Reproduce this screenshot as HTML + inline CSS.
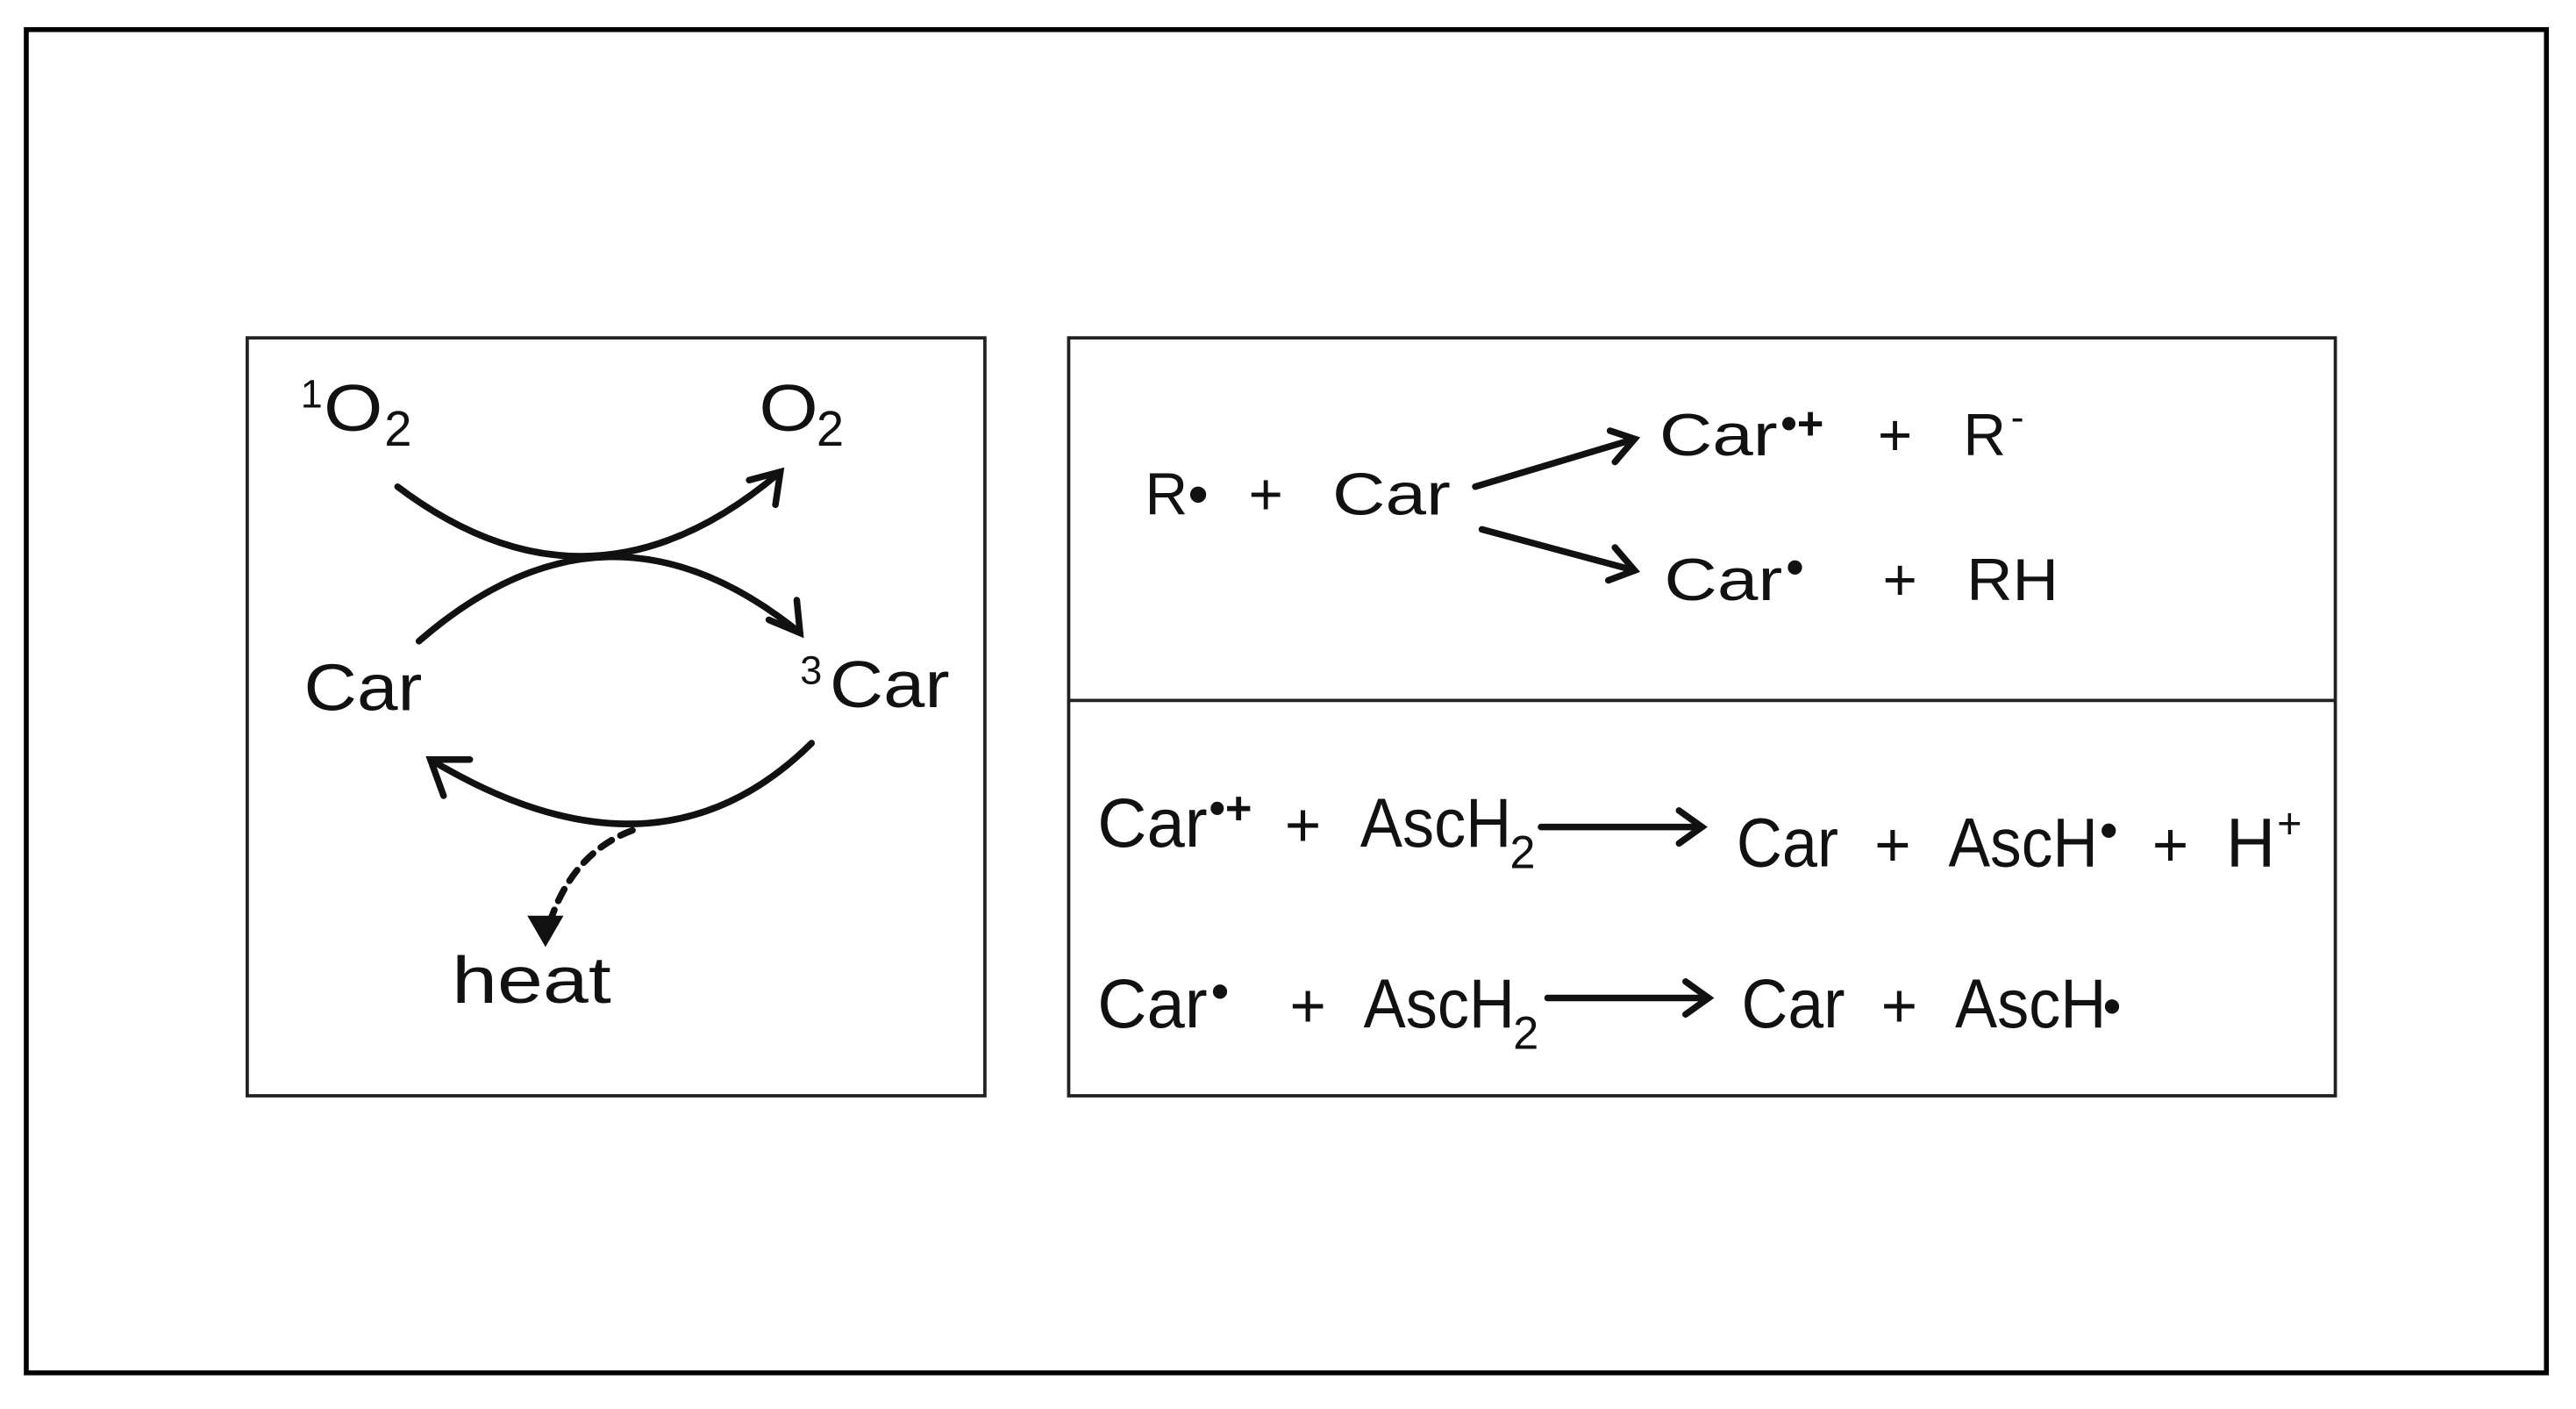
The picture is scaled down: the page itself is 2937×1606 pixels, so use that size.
<!DOCTYPE html>
<html><head><meta charset="utf-8"><style>
html,body{margin:0;padding:0;background:#fff}
svg{display:block}
text{font-family:"Liberation Sans",sans-serif;fill:#111}
</style></head><body>
<svg width="2937" height="1606" viewBox="0 0 1568 857" preserveAspectRatio="none" xmlns="http://www.w3.org/2000/svg">
<rect x="16" y="18" width="1534" height="817" fill="none" stroke="#000" stroke-width="3"/>
<rect x="150.5" y="205.5" width="449" height="461" fill="none" stroke="#222" stroke-width="2"/>
<rect x="650.5" y="205.5" width="771" height="461" fill="none" stroke="#222" stroke-width="2"/>
<line x1="650" y1="426" x2="1422" y2="426" stroke="#222" stroke-width="2"/>
<g fill="none" stroke="#111" stroke-width="4" stroke-linecap="round">
<path d="M242,296 Q360,385 475,287"/>
<path d="M456,292 L475,287 L472,307"/>
<path d="M255,390 Q370,290 487,385"/>
<path d="M468,377 L487,385 L485,365"/>
<path d="M494,452 Q400,545 262,462"/>
<path d="M270,484 L262,462 L286,462"/>
<path d="M385,505 Q345,520 332,570" stroke-dasharray="8,6"/>
<path d="M898,296 L995,267"/><path d="M980,262 L995,267 L983,281"/>
<path d="M902,322 L995,347"/><path d="M983,333 L995,347 L979,353"/>
<path d="M938,503 L1036,503"/><path d="M1022,493 L1036,503 L1022,513"/>
<path d="M942,607 L1040,607"/><path d="M1026,597 L1040,607 L1026,617"/>
</g>
<path d="M321,557 L332,576 L343,557 Z" fill="#111"/>
<g font-size="40">
<text x="183" y="248" font-size="24">1</text>
<text x="197" y="262" textLength="36" lengthAdjust="spacingAndGlyphs">O</text>
<text x="234" y="271" font-size="30">2</text>
<text x="462" y="262" textLength="36" lengthAdjust="spacingAndGlyphs">O</text>
<text x="497" y="271" font-size="30">2</text>
<text x="185" y="432" textLength="72" lengthAdjust="spacingAndGlyphs">Car</text>
<text x="487" y="416" font-size="24">3</text>
<text x="505" y="430" textLength="73" lengthAdjust="spacingAndGlyphs">Car</text>
<text x="275" y="610" textLength="97" lengthAdjust="spacingAndGlyphs">heat</text>

<text x="697" y="313" font-size="36">R•</text>
<text x="760" y="313" font-size="36">+</text>
<text x="811" y="313" font-size="36" textLength="72" lengthAdjust="spacingAndGlyphs">Car</text>
<text x="1010" y="277" font-size="36" textLength="72" lengthAdjust="spacingAndGlyphs">Car</text>
<text x="1084" y="267" font-size="28" font-weight="bold">•+</text>
<text x="1143" y="277" font-size="36">+</text>
<text x="1195" y="277" font-size="36">R</text>
<text x="1224" y="262" font-size="24">-</text>
<text x="1013" y="365" font-size="36" textLength="72" lengthAdjust="spacingAndGlyphs">Car</text>
<text x="1087" y="356" font-size="32">•</text>
<text x="1146" y="365" font-size="36">+</text>
<text x="1197" y="365" font-size="36" textLength="56" lengthAdjust="spacingAndGlyphs">RH</text>

<text x="668" y="515" font-size="42" textLength="67" lengthAdjust="spacingAndGlyphs">Car</text>
<text x="736" y="501" font-size="28" font-weight="bold">•+</text>
<text x="782" y="515" font-size="38">+</text>
<text x="828" y="515" font-size="42" textLength="92" lengthAdjust="spacingAndGlyphs">AscH</text>
<text x="919" y="528" font-size="28">2</text>
<text x="1057" y="527" font-size="42" textLength="62" lengthAdjust="spacingAndGlyphs">Car</text>
<text x="1141" y="527" font-size="38">+</text>
<text x="1186" y="527" font-size="42" textLength="91" lengthAdjust="spacingAndGlyphs">AscH</text>
<text x="1278" y="516" font-size="32">•</text>
<text x="1310" y="527" font-size="38">+</text>
<text x="1355" y="527" font-size="42" textLength="30" lengthAdjust="spacingAndGlyphs">H</text>
<text x="1386" y="510" font-size="26">+</text>

<text x="668" y="625" font-size="42" textLength="67" lengthAdjust="spacingAndGlyphs">Car</text>
<text x="737" y="614" font-size="32">•</text>
<text x="785" y="625" font-size="38">+</text>
<text x="830" y="625" font-size="42" textLength="92" lengthAdjust="spacingAndGlyphs">AscH</text>
<text x="921" y="638" font-size="28">2</text>
<text x="1060" y="625" font-size="42" textLength="63" lengthAdjust="spacingAndGlyphs">Car</text>
<text x="1145" y="625" font-size="38">+</text>
<text x="1190" y="625" font-size="42" textLength="92" lengthAdjust="spacingAndGlyphs">AscH</text>
<text x="1280" y="623" font-size="32">•</text>
</g>
</svg>
</body></html>
